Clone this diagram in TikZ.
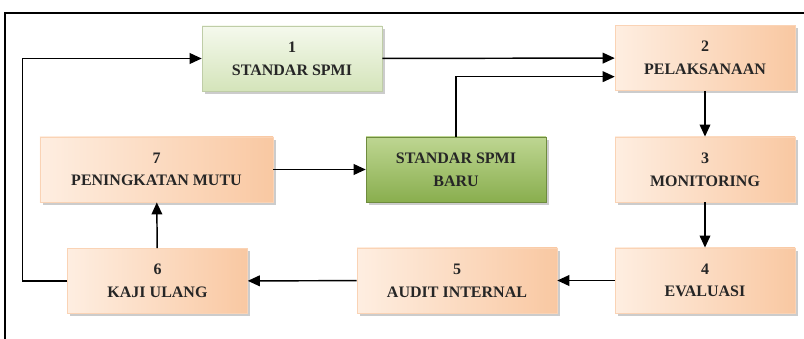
\documentclass[tikz,border=0pt]{standalone}
\usepackage{fontspec}
\setmainfont{Liberation Serif}
\usepackage{xcolor}
\usepackage{tikz}
\usetikzlibrary{arrows.meta, positioning, shadows}

\definecolor{peachlight}{RGB}{254,238,225}
\definecolor{peachdark}{RGB}{249,200,162}
\definecolor{mintlight}{RGB}{245,249,237}
\definecolor{mintdark}{RGB}{212,228,186}
\definecolor{leaflight}{RGB}{190,214,146}
\definecolor{leafdark}{RGB}{137,174,78}

\begin{document}
\begin{tikzpicture}[
    x=0.75pt, y=-0.75pt,
    stage/.style={rectangle, draw=peachdark!80, thin, left color=peachlight, right color=peachdark, minimum width=135pt, minimum height=49pt, align=center, font=\fontsize{12}{17}\selectfont\bfseries, text=black!85, drop shadow={shadow xshift=2pt, shadow yshift=-2pt, opacity=0.4}},
    first/.style={stage, draw=mintdark!90!black, top color=mintlight, bottom color=mintdark},
    newstd/.style={stage, draw=leafdark!80!black, top color=leaflight, bottom color=leafdark},
    arrow/.style={-{Triangle[length=9pt,width=8pt]}, line width=1.1pt, black},
    frame/.style={line width=1.5pt, black}
]
\useasboundingbox (0,0) rectangle (804,339);

\draw[frame] (5,339) -- (5,13) -- (804,13);

\node[first] (standar) at (292,58.5) {1\\STANDAR SPMI};
\node[stage] (pelaksanaan) at (705,58) {2\\PELAKSANAAN};
\node[stage] (monitoring) at (705,169.5) {3\\MONITORING};
\node[stage] (evaluasi) at (705,280.5) {4\\EVALUASI};
\node[stage, minimum width=150pt] (audit) at (457,280.5) {5\\AUDIT INTERNAL};
\node[stage] (kaji) at (157.5,281) {6\\KAJI ULANG};
\node[stage, minimum width=175pt] (mutu) at (156.5,169.5) {7\\PENINGKATAN MUTU};
\node[newstd] (baru) at (456,169.5) {STANDAR SPMI\\BARU};

\draw[arrow] (standar) -- (pelaksanaan);
\draw[arrow] (baru.north) |- ([yshift=-14pt]pelaksanaan.west);
\draw[arrow] (pelaksanaan) -- (monitoring);
\draw[arrow] (monitoring) -- (evaluasi);
\draw[arrow] (evaluasi) -- (audit);
\draw[arrow] (audit) -- (kaji);
\draw[arrow] (kaji) -- (mutu);
\draw[arrow] (mutu) -- (baru);
\draw[arrow] (kaji.west) -- ++(-45,0) |- (standar.west);

\end{tikzpicture}
\end{document}
